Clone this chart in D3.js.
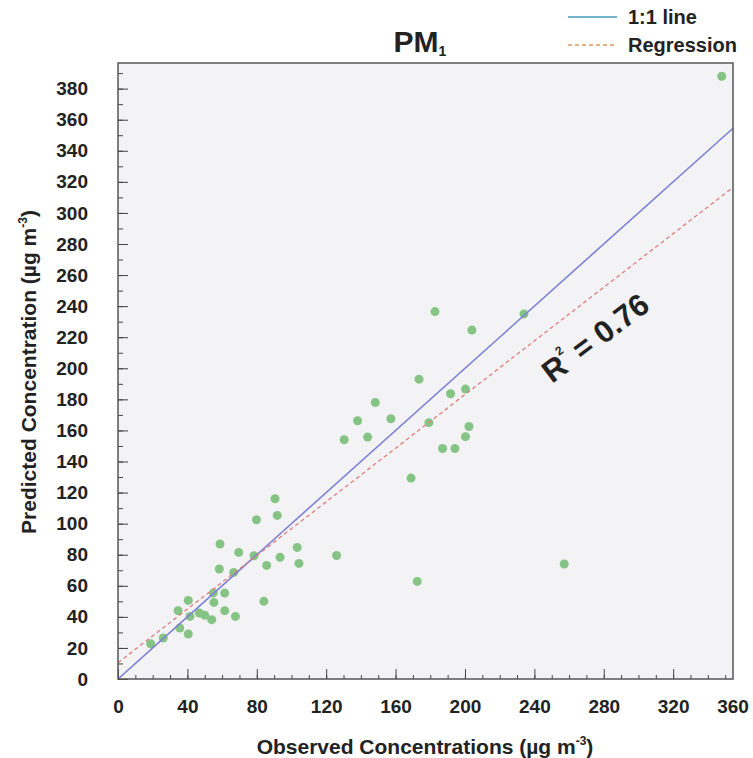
<!DOCTYPE html>
<html>
<head>
<meta charset="utf-8">
<script src="https://cdn.jsdelivr.net/npm/d3@7"></script>
<style>
  body { margin: 0; background: #fff; }
  svg text { font-family: "Liberation Sans", Arial, sans-serif; font-weight: bold; fill: #222; }
</style>
</head>
<body>
<div id="chart"></div>
<script>
// observed vs predicted PM1 values
var observed = [348, 182.7, 234, 204, 173.5, 148.3, 191.7, 200.3, 138.1, 157.3,
  130.4, 143.9, 179.2, 202.3, 200.3, 187.1, 194.2, 168.9, 126, 172.5,
  257.2, 90.5, 91.8, 79.8, 58.8, 69.6, 103.3, 104.3, 93.4, 85.7,
  78.4, 58.4, 66.7, 84.1, 54.9, 61.5, 55.3, 61.5, 67.7, 54,
  40.5, 34.6, 46.9, 50, 41.5, 35.6, 40.5, 26.1, 18.8];
var predicted = [388, 236.5, 235, 224.6, 193, 178, 183.6, 186.6, 166.2, 167.5,
  154, 155.7, 165, 162.5, 156, 148.4, 148.4, 129.3, 79.5, 62.8,
  74, 116, 105.3, 102.5, 86.9, 81.5, 84.7, 74.4, 78.3, 73.1,
  79.3, 70.8, 68.6, 50, 55.3, 55.3, 49.3, 44, 40.3, 38.2,
  50.6, 44, 42.5, 41, 40.3, 32.8, 29, 26.4, 22.7];

// regression line as drawn
var regSlope = 0.863;
var regIntercept = 10.5;
var rSquared = "0.76";

var xTickLabels = [0, 40, 80, 120, 160, 200, 240, 280, 320, 360];
var yTickLabels = [0, 20, 40, 60, 80, 100, 120, 140, 160, 180, 200, 220, 240, 260, 280, 300, 320, 340, 360, 380];

var width = 753, height = 758;
var plotLeft = 118, plotRight = 733, plotTop = 63, plotBottom = 679;
var xMax = 354.5, yMax = 396.5;

var svg = d3.select('#chart').append('svg')
  .attr('width', width)
  .attr('height', height);

var x = d3.scaleLinear().domain([0, xMax]).range([plotLeft, plotRight]);
var y = d3.scaleLinear().domain([0, yMax]).range([plotBottom, plotTop]);

// plot background
svg.append('rect')
  .attr('x', plotLeft).attr('y', plotTop)
  .attr('width', plotRight - plotLeft).attr('height', plotBottom - plotTop)
  .attr('fill', '#f3f3f5');

var clip = svg.append('clipPath').attr('id', 'plotclip');
clip.append('rect')
  .attr('x', plotLeft).attr('y', plotTop)
  .attr('width', plotRight - plotLeft).attr('height', plotBottom - plotTop);

var plot = svg.append('g').attr('clip-path', 'url(#plotclip)');

// points
plot.selectAll('circle')
  .data(observed)
  .enter().append('circle')
  .attr('cx', function(d) { return x(d); })
  .attr('cy', function(d, i) { return y(predicted[i]); })
  .attr('r', 4.5)
  .attr('fill', '#86c486');

// 1:1 line
plot.append('line')
  .attr('x1', x(0)).attr('y1', y(0))
  .attr('x2', x(xMax)).attr('y2', y(xMax))
  .attr('stroke', '#7d80d4')
  .attr('stroke-width', 1.6);

// regression line
plot.append('line')
  .attr('x1', x(0)).attr('y1', y(regIntercept))
  .attr('x2', x(xMax)).attr('y2', y(regIntercept + regSlope * xMax))
  .attr('stroke', '#e07c7c')
  .attr('stroke-width', 1.3)
  .attr('stroke-dasharray', '4,3');

// minor ticks
var xMinor = d3.range(0, xMax, 10);
var yMinor = d3.range(0, yMax - 5, 10);
svg.append('g')
  .attr('transform', 'translate(0,' + plotBottom + ')')
  .call(d3.axisBottom(x).tickValues(xMinor).tickSize(-4).tickFormat(''))
  .call(function(g) { g.select('.domain').remove(); });
svg.append('g')
  .attr('transform', 'translate(' + plotLeft + ',0)')
  .call(d3.axisLeft(y).tickValues(yMinor).tickSize(-5).tickFormat(''))
  .call(function(g) { g.select('.domain').remove(); });

// major ticks and labels
var xAxis = svg.append('g')
  .attr('transform', 'translate(0,' + plotBottom + ')')
  .call(d3.axisBottom(x)
    .tickValues(xTickLabels.filter(function(d) { return d <= xMax; }))
    .tickSize(-10).tickPadding(21));
xAxis.select('.domain').remove();
xAxis.selectAll('text').attr('font-size', 19);

// the last label sits on the right edge in the original
xTickLabels.filter(function(d) { return d > xMax; }).forEach(function(d) {
  xAxis.append('text')
    .attr('x', plotRight).attr('y', 21)
    .attr('dy', '0.71em')
    .attr('text-anchor', 'middle')
    .attr('font-size', 19)
    .text(d);
});

var yAxis = svg.append('g')
  .attr('transform', 'translate(' + plotLeft + ',0)')
  .call(d3.axisLeft(y).tickValues(yTickLabels).tickSize(-10).tickPadding(30));
yAxis.select('.domain').remove();
yAxis.selectAll('text').attr('font-size', 19);

svg.selectAll('.tick line').attr('stroke', '#444');

// frame
svg.append('rect')
  .attr('x', plotLeft).attr('y', plotTop)
  .attr('width', plotRight - plotLeft).attr('height', plotBottom - plotTop)
  .attr('fill', 'none')
  .attr('stroke', '#555')
  .attr('stroke-width', 1.5);

// title
var title = svg.append('text')
  .attr('x', 420).attr('y', 52)
  .attr('text-anchor', 'middle')
  .attr('font-size', 30);
title.append('tspan').text('PM');
title.append('tspan').attr('font-size', 14).attr('dy', 4).text('1');

// legend
svg.append('line')
  .attr('x1', 568).attr('x2', 617).attr('y1', 17).attr('y2', 17)
  .attr('stroke', '#74b4cc').attr('stroke-width', 2);
svg.append('text')
  .attr('x', 628).attr('y', 24).attr('font-size', 20)
  .text('1:1 line');
svg.append('line')
  .attr('x1', 568).attr('x2', 617).attr('y1', 45).attr('y2', 45)
  .attr('stroke', '#e3b27f').attr('stroke-width', 2)
  .attr('stroke-dasharray', '4,3');
svg.append('text')
  .attr('x', 628).attr('y', 52).attr('font-size', 20)
  .text('Regression');

// r squared label along the regression line
var r2 = svg.append('text')
  .attr('transform', 'translate(597,340) rotate(-37)')
  .attr('text-anchor', 'middle')
  .attr('dominant-baseline', 'middle')
  .attr('font-size', 31);
r2.append('tspan').text('R');
r2.append('tspan').attr('font-size', 12).attr('dy', -13).text('2');
r2.append('tspan').attr('dy', 13).text(' = ' + rSquared);

// axis titles
var xt = svg.append('text')
  .attr('x', 425).attr('y', 754)
  .attr('text-anchor', 'middle')
  .attr('font-size', 21);
xt.append('tspan').text('Observed Concentrations (\u00b5g m');
xt.append('tspan').attr('font-size', 12).attr('dy', -9).text('-3');
xt.append('tspan').attr('dy', 9).text(')');

var yt = svg.append('text')
  .attr('transform', 'translate(36,372) rotate(-90)')
  .attr('text-anchor', 'middle')
  .attr('font-size', 21);
yt.append('tspan').text('Predicted Concentration (\u00b5g m');
yt.append('tspan').attr('font-size', 12).attr('dy', -9).text('-3');
yt.append('tspan').attr('dy', 9).text(')');
</script>
</body>
</html>
